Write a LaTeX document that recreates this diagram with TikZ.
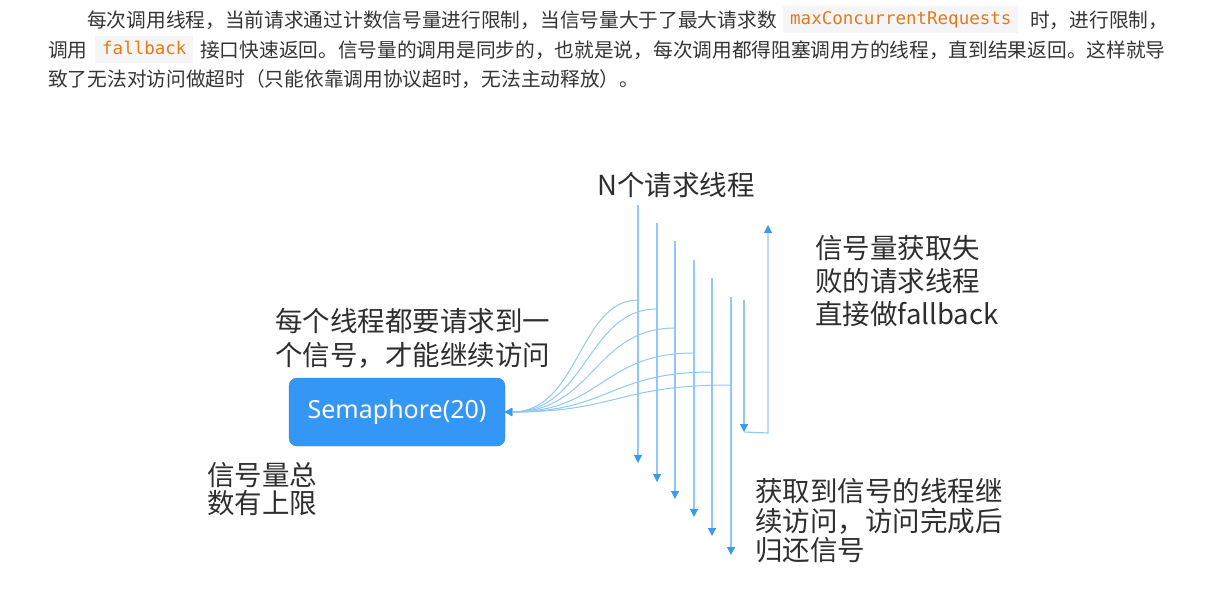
\documentclass[tikz,border=0pt]{standalone}
\usepackage{fontspec}
\setmainfont{Noto Sans CJK SC}
\newfontfamily\cjk{Noto Sans CJK SC}
\newfontfamily\latinsans{Noto Sans}
\newfontfamily\codefont{DejaVu Sans Mono}
\usetikzlibrary{arrows.meta}
\definecolor{txt}{HTML}{2E2E2E}
\definecolor{ptxt}{HTML}{353535}
\definecolor{codebg}{HTML}{F5F5F7}
\definecolor{codefg}{HTML}{E57A14}
\definecolor{linec}{HTML}{92C8F6}
\definecolor{arrc}{HTML}{3A9AF0}
\definecolor{boxfill}{HTML}{3497F5}
\definecolor{boxdraw}{HTML}{2B88E2}
\begin{document}
\begin{tikzpicture}[x=1pt,y=-1pt,
  ptext/.style={anchor=west, inner sep=0pt, text=ptxt, font=\cjk\fontsize{19.7}{24}\selectfont},
  codebox/.style={anchor=west, inner xsep=7pt, inner ysep=0pt, text height=14pt, text depth=5pt, minimum height=27pt, fill=codebg, text=codefg, font=\codefont\fontsize{17.5}{20}\selectfont},
  lbl/.style={anchor=west, inner sep=0pt, text=txt, align=left},
  big/.style={font=\cjk\fontsize{27.5}{#1}\selectfont},
  thread/.style={draw=linec, line width=1.1pt, -{Triangle[width=8pt,length=8pt,color=arrc]}},
  req/.style={draw=linec, line width=1pt, -{Triangle[width=8pt,length=7pt,color=arrc]}},
  sem/.style={draw=boxdraw, fill=boxfill, rounded corners=8pt, minimum width=216pt, minimum height=68pt, text=white, font=\latinsans\fontsize{25}{28}\selectfont, inner sep=0pt}
]
\useasboundingbox (0,0) rectangle (1220,599);
\fill[white] (0,0) rectangle (1220,599);

% paragraph
\node[ptext] (p1a) at (87,20) {每次调用线程，当前请求通过计数信号量进行限制，当信号量大于了最大请求数};
\node[codebox] (c1) at (783,20) {maxConcurrentRequests};
\node[ptext] (p1b) at (1030,20) {时，进行限制，};
\node[ptext] (p2a) at (48,50) {调用};
\node[codebox] (c2) at (95,50) {fallback};
\node[ptext] (p2b) at (200,50) {接口快速返回。信号量的调用是同步的，也就是说，每次调用都得阻塞调用方的线程，直到结果返回。这样就导};
\node[ptext] (p3) at (48,79) {致了无法对访问做超时（只能依靠调用协议超时，无法主动释放）。};

% texts of the diagram
\node[lbl, big=32] (nthreads) at (597,185) {N个请求线程};
\node[lbl, big=33] (failtxt) at (815,281) {信号量获取失\\败的请求线程\\直接做fallback};
\node[lbl, big=34] (each) at (275,338) {每个线程都要请求到一\\个信号，才能继续访问};
\node[lbl, big=28] (limit) at (207,489) {信号量总\\数有上限};
\node[lbl, big=29.5] (succ) at (755,521) {获取到信号的线程继\\续访问，访问完成后\\归还信号};

% semaphore
\node[sem] (sem) at (397,412) {Semaphore(20)};

% thread lines
\foreach \i/\x/\t/\b/\j/\m in {1/638/205/463/300/579, 2/657/223/482/309/587, 3/675/241/499/328/594, 4/694/260/517/353/602, 5/712/278/536/372/610, 6/731/297/555/385/617}{
  \coordinate (t\i) at (\x,\t);
  \coordinate (b\i) at (\x,\b);
  \coordinate (j\i) at (\x,\j);
  \coordinate (m\i) at (\m,\j);
}
\foreach \i in {1,...,6}{
  \draw[thread] (t\i) -- (b\i);
}
\foreach \i/\m in {1/579, 2/587, 3/594, 4/602, 5/610, 6/617}{
  \draw[req] (j\i) .. controls (m\i) and (\m,412) .. (sem.east);
}

% failed thread
\coordinate (ft) at (744,300);
\coordinate (fb) at (744,432);
\coordinate (uc) at (768,433);
\coordinate (ut) at (768,225);
\draw[thread] (ft) -- (fb);
\draw[thread] (fb) -- (uc) -- (ut);
\end{tikzpicture}
\end{document}
